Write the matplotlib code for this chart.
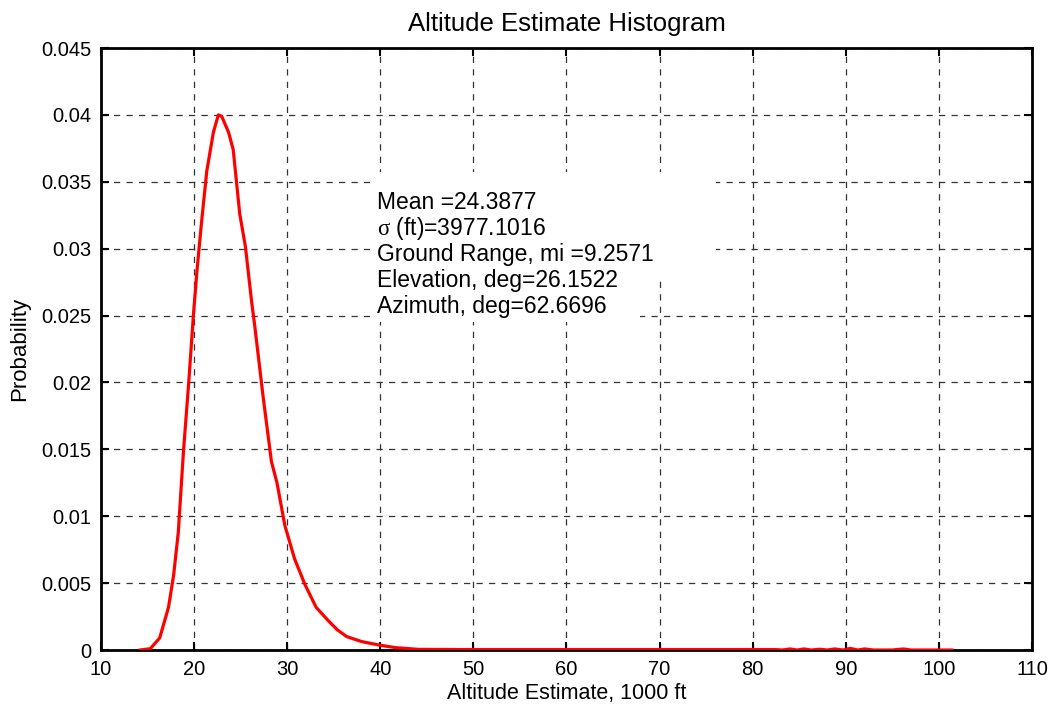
import matplotlib
matplotlib.use("Agg")
import matplotlib.pyplot as plt
from matplotlib.patches import Rectangle

alt_kft = [14.2, 15.3, 16.3, 17.25, 17.8, 18.3, 18.86, 19.4, 19.93, 20.3, 20.8, 21.36, 22.07,
           22.6, 22.96, 23.7, 24.2, 24.9, 25.5, 26.2, 26.5, 27.4, 28.3, 28.9, 29.75, 30.8,
           31.9, 33.1, 34.4, 35.4, 36.4, 38.0, 39.8, 41.6, 44.1, 50, 60, 70, 80, 82.5, 83.2, 84.0,
           84.8, 85.5, 86.3, 87.2, 88.0, 88.8, 89.7, 90.5, 91.3, 92.0, 93, 95, 96.2, 97, 99, 101.4]
probability = [0.0, 0.0001, 0.0009, 0.0032, 0.0056, 0.0088, 0.0149, 0.0198, 0.0251, 0.0283,
               0.032, 0.0358, 0.0387, 0.0400, 0.0399, 0.0387, 0.0374, 0.0326, 0.0302, 0.0259,
               0.0243, 0.019, 0.0141, 0.0125, 0.0093, 0.0068, 0.0049, 0.0032, 0.0022, 0.0015,
               0.0010, 0.00063, 0.00038, 0.00018, 0.00005, 0.00003, 0.00003, 0.00003, 0.00003,
               0.00003, 0.0, 0.00008, 0.0, 0.00008, 0.0, 0.00006, 0.0, 0.00008, 0.0, 0.00012,
               0.0, 0.00008, 0.0, 0.0, 0.00008, 0.0, 0.0, 0.0]

x_ticks = list(range(10, 111, 10))
y_ticks = [0, 0.005, 0.01, 0.015, 0.02, 0.025, 0.03, 0.035, 0.04, 0.045]
y_tick_labels = ["0", "0.005", "0.01", "0.015", "0.02", "0.025", "0.03", "0.035", "0.04", "0.045"]

info_lines = ["Mean =24.3877", r"$\sigma$ (ft)=3977.1016", "Ground Range, mi =9.2571",
              "Elevation, deg=26.1522", "Azimuth, deg=62.6696"]

plt.rcParams['font.family'] = ['Liberation Sans', 'DejaVu Sans']
plt.rcParams['mathtext.fontset'] = 'custom'
plt.rcParams['mathtext.rm'] = 'Liberation Serif'
plt.rcParams['mathtext.it'] = 'Liberation Serif'

fig = plt.figure(figsize=(10.48, 7.06), dpi=100)
ax = fig.add_axes([0.0964, 0.0793, 0.8883, 0.8527])

ax.plot(alt_kft, probability, color='#ff0000', linewidth=2.3, zorder=3)

ax.set_xlim(10, 110)
ax.set_ylim(0, 0.045)
ax.set_xticks(x_ticks)
ax.set_yticks(y_ticks)
ax.set_yticklabels(y_tick_labels)
ax.tick_params(direction='in', length=6, width=1.5, top=True, right=True, labelsize=14.5,
               pad=7, colors='black')
ax.grid(True, color='#333333', linestyle=(0, (5, 5)), linewidth=0.9)
ax.set_axisbelow(True)
for s in ax.spines.values():
    s.set_linewidth(2)
    s.set_color('black')

ax.set_title("Altitude Estimate Histogram", fontsize=18.5, pad=12)
ax.set_xlabel("Altitude Estimate, 1000 ft", fontsize=15.5, labelpad=3)
ax.set_ylabel("Probability", fontsize=16, labelpad=8)

# white background behind annotation (two blocks as in the original)
ax.add_patch(Rectangle((38.9, 0.02796), 37.2, 0.00777, facecolor='white', edgecolor='none',
                       zorder=2.5))
ax.add_patch(Rectangle((38.9, 0.02452), 29.0, 0.00345, facecolor='white', edgecolor='none',
                       zorder=2.5))
y0 = 0.03345
dy = 0.001935
for i, line in enumerate(info_lines):
    ax.text(39.65, y0 - i * dy, line, fontsize=16.5, va='center', ha='left', zorder=4)

fig.savefig("out.png", dpi=100)
